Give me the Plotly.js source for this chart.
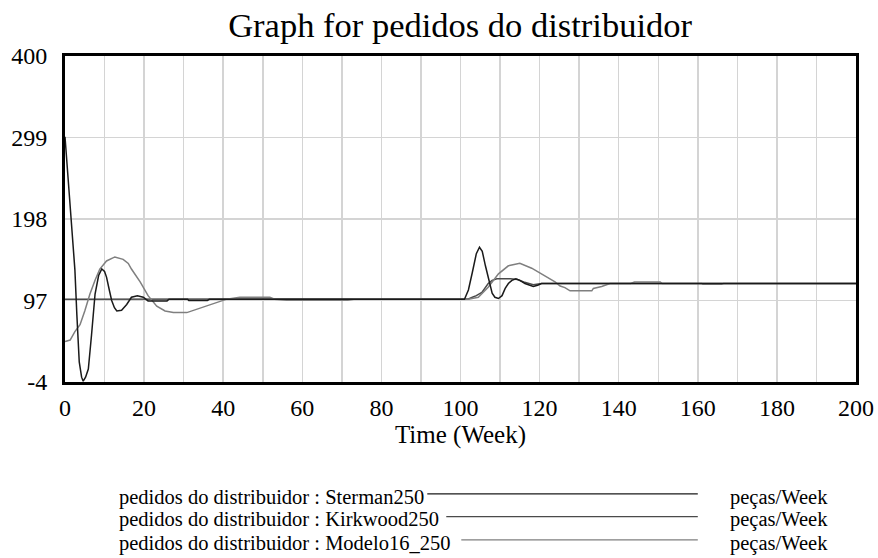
<!DOCTYPE html>
<html>
<head>
<meta charset="utf-8">
<script src="https://cdn.plot.ly/plotly-3.0.1.min.js"></script>
<style>html,body{margin:0;padding:0;background:#fff;}#chart{width:878px;height:558px;}</style>
</head>
<body>
<div id="chart"></div>
<script>
// Series data (Time in weeks, pedidos in peças/Week)
var stermanWeeks  = [0, 0.5, 1, 1.7, 2.5, 3, 3.6, 4.2, 4.6, 5.2, 5.9, 6.7, 7.6, 8.5, 9.3, 10, 10.5, 11.2, 11.8, 12.5, 13.1, 14.3, 15.6, 16.8, 18.3, 19.8, 20.7, 21, 25.8, 26.3, 31, 31.3, 36, 36.5, 101, 102, 103, 104, 104.8, 105.5, 106.3, 107.2, 108, 108.7, 109.6, 110.5, 111.3, 112.1, 113, 114, 115, 116.3, 117.3, 118.4, 119.5, 120.5, 200];
var stermanValues = [300, 268, 240, 193, 135, 79, 21, 2, -3, 2, 12, 54, 105, 128, 136, 133, 126, 110, 97, 88, 84, 85, 92, 101, 103, 101, 98, 96.5, 96.5, 98.5, 98.5, 97, 97, 98.5, 98.5, 110, 132, 155, 163, 158, 140, 120, 106, 101, 99.5, 103, 112, 118, 122, 124, 122, 118, 116, 114.5, 116, 118, 118];

var kirkwoodWeeks  = [0, 101, 102, 103, 104, 105.4, 106.2, 107, 108, 109.2, 112.6, 114.4, 116, 118.4, 120.5, 200];
var kirkwoodValues = [98.5, 98.5, 99, 101, 103, 107, 113, 118, 122, 124, 124, 123, 120, 116.5, 118, 118];

var modeloWeeks  = [0, 1.3, 2.5, 3.8, 5, 6.3, 7.6, 8.8, 10.5, 12.6, 14.7, 16, 16.8, 19, 21, 23.2, 25.3, 27.4, 30.8, 33.3, 35.8, 38.4, 40.9, 44.2, 46.8, 51.8, 53, 56, 71.5, 73, 102, 104.5, 107, 109.6, 112.1, 115, 118, 121, 123.9, 125.2, 126.4, 127.7, 133.2, 133.6, 135.7, 137.8, 143, 144, 150.5, 151, 161, 161.3, 166, 166.5, 200];
var modeloValues = [46, 48, 58.5, 67, 84, 105, 122, 136, 146, 151, 148, 143, 136, 120, 103, 90, 84, 82, 82, 86, 90, 94.5, 98.7, 101, 101, 101, 98.5, 97.3, 97.3, 98.5, 98.5, 101, 113.5, 130, 140, 143, 137, 128, 120, 115, 113, 109, 109, 112, 114.4, 118, 118, 120, 120, 118, 118, 117, 117, 118, 118];

var seriesNames = ["pedidos do distribuidor : Sterman250", "pedidos do distribuidor : Kirkwood250", "pedidos do distribuidor : Modelo16_250"];
var unitLabel = "peças/Week";
var yTicks = [-4, 97, 198, 299, 400];
var xTicks = [0, 20, 40, 60, 80, 100, 120, 140, 160, 180, 200];

var colors = ["#1a1a1a", "#4a4a4a", "#7f7f7f"];
var serif = "'Liberation Serif', 'Times New Roman', serif";

var traces = [
  {x: kirkwoodWeeks, y: kirkwoodValues, name: seriesNames[1], mode: "lines", line: {color: colors[1], width: 1.5}},
  {x: modeloWeeks, y: modeloValues, name: seriesNames[2], mode: "lines", line: {color: colors[2], width: 1.5}},
  {x: stermanWeeks, y: stermanValues, name: seriesNames[0], mode: "lines", line: {color: colors[0], width: 1.5}}
];

// legend rows drawn as text + line (Vensim style)
var rowY = [-0.353, -0.423, -0.494];
var lineStart = [0.458, 0.482, 0.501];
var annotations = [];
var shapes = [];
for (var i = 0; i < 3; i++) {
  annotations.push({xref: "paper", yref: "paper", x: 0.0657, y: rowY[i], xanchor: "left", yanchor: "middle",
    text: seriesNames[i], showarrow: false, font: {family: serif, size: 20.5, color: "#000"}});
  annotations.push({xref: "paper", yref: "paper", x: 0.838, y: rowY[i], xanchor: "left", yanchor: "middle",
    text: unitLabel, showarrow: false, font: {family: serif, size: 20.5, color: "#000"}});
  shapes.push({type: "line", xref: "paper", yref: "paper", x0: lineStart[i], x1: 0.800, y0: rowY[i] + 0.01, y1: rowY[i] + 0.01,
    line: {color: colors[i], width: 1.2}});
}

var layout = {
  width: 878, height: 558,
  margin: {l: 65, r: 22, t: 56, b: 176},
  paper_bgcolor: "#fff", plot_bgcolor: "#fff",
  showlegend: false,
  title: {text: "Graph for pedidos do distribuidor", font: {family: serif, size: 34.5, color: "#000"}, x: 0.524, xanchor: "center", y: 0.955, yanchor: "middle"},
  xaxis: {
    range: [0, 200], tickvals: xTicks, ticks: "", showline: true, linewidth: 3, linecolor: "#000", mirror: true,
    showgrid: true, gridcolor: "#d4d4d4", gridwidth: 1.5, zeroline: false,
    minor: {dtick: 10, showgrid: true, gridcolor: "#d4d4d4", gridwidth: 1.5},
    tickfont: {family: serif, size: 24, color: "#000"}, ticklabelstandoff: 2,
    title: {text: "Time (Week)", font: {family: serif, size: 25, color: "#000"}, standoff: 4}
  },
  yaxis: {
    range: [-4, 400], tickvals: yTicks, ticktext: yTicks.map(String), ticks: "", showline: true, linewidth: 3, linecolor: "#000", mirror: true,
    showgrid: true, gridcolor: "#d4d4d4", gridwidth: 1.5, zeroline: false,
    tickfont: {family: serif, size: 24, color: "#000"}, ticklabelstandoff: 10
  },
  annotations: annotations,
  shapes: shapes
};

Plotly.newPlot("chart", traces, layout, {staticPlot: true, displayModeBar: false});
</script>
</body>
</html>
